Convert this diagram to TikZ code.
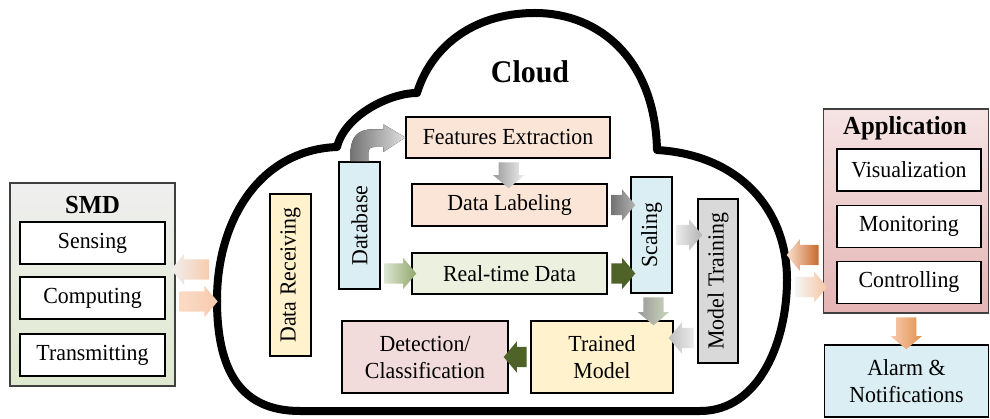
\documentclass[tikz,border=0pt]{standalone}
\usepackage{fontspec}
\setmainfont{Liberation Serif}[FakeStretch=0.95]
\usetikzlibrary{shapes.arrows}
\usetikzlibrary{calc}
\definecolor{peach}{HTML}{FBE5D6}
\definecolor{lgreen}{HTML}{EBF1DE}
\definecolor{lblue}{HTML}{DAEEF3}
\definecolor{lyellow}{HTML}{FFF2CC}
\definecolor{lpink}{HTML}{F2DCDB}
\definecolor{lgray}{HTML}{D9D9D9}
\definecolor{dgreen}{HTML}{4F6228}
\definecolor{olive}{HTML}{8FA86A}
\definecolor{smdtop}{HTML}{EFEFEF}
\definecolor{smdbot}{HTML}{DFE9CF}
\definecolor{apptop}{HTML}{F6E4E4}
\definecolor{appbot}{HTML}{E4B5B4}
\definecolor{orange1}{HTML}{F8CBAD}
\definecolor{orange2}{HTML}{C8692B}
\definecolor{orange3}{HTML}{E0924F}
\tikzset{box/.style={draw, line width=1.4pt, inner sep=2pt, align=center, font=\fontsize{23}{27}\selectfont}}
\tikzset{sub/.style={box, fill=white, minimum width=145, minimum height=42}}
\tikzset{outer/.style={draw=black!75, line width=1.4pt}}
\tikzset{title/.style={font=\bfseries\fontsize{26}{29}\selectfont}}
\tikzset{blk/.style={single arrow, draw=none, inner xsep=0pt, inner ysep=10pt, single arrow head extend=5.5, single arrow tip angle=100, minimum height=#1}}

\begin{document}
\begin{tikzpicture}[x=1pt,y=-1pt]
  \useasboundingbox (0,0) rectangle (990,419);
  % cloud
  \draw[line width=8pt, line join=round, fill=white]
    (300,411) -- (700,411)
    .. controls (760,411) and (787,340) .. (787,280)
    .. controls (787,210) and (740,155) .. (657,150)
    .. controls (655,60) and (600,13) .. (535,13)
    .. controls (470,13) and (430,50) .. (417,93)
    .. controls (390,93) and (345,115) .. (337,147)
    .. controls (260,150) and (217,220) .. (217,300)
    .. controls (217,370) and (240,411) .. (300,411) -- cycle;
  \coordinate (cloudW) at (213,286);
  \coordinate (cloudE) at (791,271);
  \node[font=\bfseries\fontsize{31.5}{35}\selectfont] (cloud) at (530,72) {Cloud};

  % SMD
  \node[outer, top color=smdtop, bottom color=smdbot, minimum width=165, minimum height=203] (smd) at (92.5,284.5) {};
  \node[title] (smdt) at (92.5,205) {SMD};
  \foreach \y/\lab/\txt in {243/sen/Sensing, 298/com/Computing, 355/tra/Transmitting} {
    \node[sub] (\lab) at (92.5,\y) {\txt};
  }

  % Application
  \node[outer, top color=apptop, bottom color=appbot, minimum width=165, minimum height=204] (app) at (906,211) {};
  \node[title] (appt) at (905,128) {Application};
  \foreach \y/\lab/\txt in {170/vis/Visualization, 226.5/mon/Monitoring, 282.5/ctr/Controlling} {
    \node[sub, minimum width=144] (\lab) at (909,\y) {\txt};
  }
  \node[box, fill=lblue, minimum width=164, minimum height=72] (alarm) at (906.5,381) {Alarm \&\\Notifications};

  % inside the cloud
  \node[box, fill=peach, minimum width=204, minimum height=41] (fe) at (508,137.5) {Features Extraction};
  \node[box, fill=peach, minimum width=195, minimum height=42] (dl) at (509.5,205) {Data Labeling};
  \node[box, fill=lgreen, minimum width=195, minimum height=41] (rt) at (509.5,273.5) {Real-time Data};
  \node[box, fill=lblue, rotate=90, minimum width=127, minimum height=41] (db) at (359.5,225.5) {Database};
  \node[box, fill=lyellow, rotate=90, minimum width=162, minimum height=41] (dr) at (290.5,275) {Data Receiving};
  \node[box, fill=lblue, rotate=90, minimum width=116, minimum height=41] (sc) at (651.5,235) {Scaling};
  \node[box, fill=lgray, rotate=90, minimum width=164, minimum height=40] (mt) at (718,281) {Model Training};
  \node[box, fill=lyellow, minimum width=142, minimum height=72] (tm) at (602,357) {Trained\\Model};
  \node[box, fill=lpink, minimum width=166, minimum height=72] (dc) at (425,357) {Detection/\\Classification};

  % block arrows
  \fill[left color=black!55, right color=black!12]
    ($(db.east)+(-9,0)$) -- ++(0,-8) .. controls +(0,-17) and +(-14,0) .. ++(22,-24)
    -- ++(11,0) -- ++(0,-5) -- ($(fe.west)$) -- ++(-22,14.5) -- ++(0,-5)
    -- ++(-9,0) .. controls +(-4,0) and +(0,-4) .. ++(-6,6) -- ($(db.east)+(9,0)$) -- cycle;
  \node[blk=26, rotate=-90, left color=black!40, right color=black!6] at ($(fe.south)!.5!(dl.north)$) {};
  \node[blk=24, left color=black!55, right color=black!30] at ($(dl.east)!.5!(dl.east -| sc.north)$) {};
  \node[blk=32, left color=olive!30, right color=olive] at ($(rt.west)!.5!(rt.west -| db.south)$) {};
  \node[blk=24, fill=dgreen] at ($(rt.east)!.5!(rt.east -| sc.north)$) {};
  \node[blk=28, rotate=-90, left color=black!40, right color=olive!45] at ($(sc.west)!.5!(sc.west |- tm.north)+(2,0)$) {};
  \node[blk=26, left color=black!8, right color=black!30] at ($(sc.south)!.5!(sc.south -| mt.north)$) {};
  \node[blk=25, rotate=180, left color=black!25, right color=black!8] at ($(tm.east)!.5!(tm.east -| mt.north)+(0,-19)$) {};
  \node[blk=23, rotate=180, fill=dgreen] at ($(tm.west)!.5!(dc.east)$) {};
  \node[blk=38, rotate=180, left color=black!6, right color=orange1] at ($(smd.east)!.5!(smd.east -| cloudW)+(0,-15)$) {};
  \node[blk=38, left color=orange1!70, right color=orange1] at ($(smd.east)!.5!(smd.east -| cloudW)+(0,17)$) {};
  \node[blk=32, rotate=180, left color=orange1!60, right color=orange2] at ($(cloudE)!.5!(cloudE -| app.west)+(0,-16)$) {};
  \node[blk=32, left color=black!4, right color=orange1!90!orange3] at ($(cloudE)!.5!(cloudE -| app.west)+(0,16)$) {};
  \node[blk=32, rotate=-90, left color=orange1, right color=orange3] at ($(app.south)!.5!(alarm.north)$) {};
\end{tikzpicture}
\end{document}
